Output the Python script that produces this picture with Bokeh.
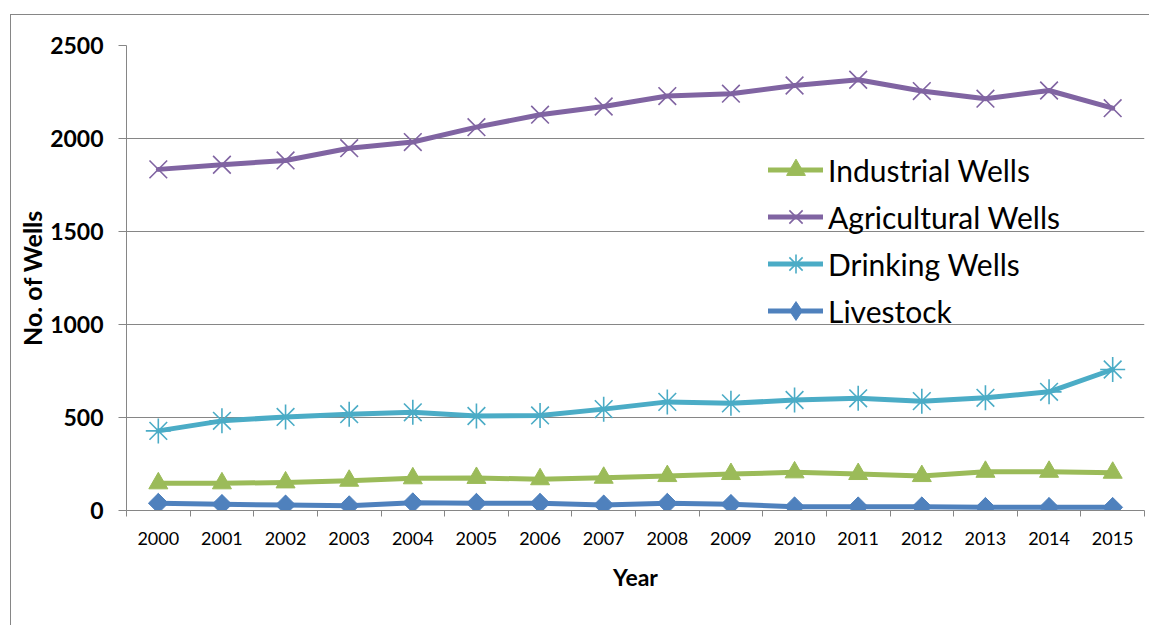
import math

from bokeh.embed import file_html
from bokeh.models import FixedTicker, Legend, LegendItem, Range1d
from bokeh.plotting import figure
from bokeh.resources import INLINE

# Number of wells per year, by use
years = ["2000", "2001", "2002", "2003", "2004", "2005", "2006", "2007",
         "2008", "2009", "2010", "2011", "2012", "2013", "2014", "2015"]
industrial = [146, 146, 151, 160, 173, 175, 168, 176, 185, 196, 205, 196, 185, 208, 208, 203]
agricultural = [1834, 1859, 1882, 1948, 1981, 2061, 2128, 2172, 2228, 2241, 2285, 2316,
                2255, 2214, 2258, 2163]
drinking = [428, 482, 503, 518, 528, 508, 511, 545, 584, 576, 594, 603, 588, 606, 638, 758]
livestock = [39, 33, 30, 26, 42, 39, 39, 30, 39, 33, 20, 20, 20, 17, 17, 17]

y_ticks = [0, 500, 1000, 1500, 2000, 2500]

FONT = "Lato"
GRID = "#868686"

xs = list(range(len(years)))

p = figure(
    width=1139, height=611,
    x_range=Range1d(-0.5, len(years) - 0.5),
    y_range=Range1d(0, 2500),
    output_backend="svg", toolbar_location=None,
    min_border_left=115, min_border_right=6,
    min_border_top=30, min_border_bottom=116,
    margin=(14, 0, 0, 10),
)
p.styles = {"border-left": f"1px solid {GRID}", "border-top": f"1px solid {GRID}"}
p.outline_line_color = None
p.background_fill_color = "white"
p.border_fill_color = "white"

# x axis: year labels at category centres, tick marks at category boundaries
p.xaxis.ticker = FixedTicker(ticks=xs, minor_ticks=[i - 0.5 for i in range(len(years) + 1)])
p.xaxis.major_label_overrides = {i: y for i, y in enumerate(years)}
p.xaxis.major_tick_out = 0
p.xaxis.major_tick_in = 0
p.xaxis.minor_tick_out = 6
p.xaxis.minor_tick_in = 0
p.xaxis.minor_tick_line_color = GRID
p.xaxis.axis_line_color = GRID
p.xaxis.major_label_text_font = FONT
p.xaxis.major_label_text_font_size = "18px"
p.xaxis.major_label_text_color = "black"
p.xaxis.major_label_standoff = 15
p.xaxis.axis_label = "Year"
p.xaxis.axis_label_text_font = FONT
p.xaxis.axis_label_text_font_style = "bold"
p.xaxis.axis_label_text_font_size = "23px"
p.xaxis.axis_label_text_color = "black"
p.xaxis.axis_label_standoff = 15
p.xgrid.grid_line_color = None

# y axis
p.yaxis.ticker = FixedTicker(ticks=y_ticks)
p.yaxis.major_tick_out = 8
p.yaxis.major_tick_in = 0
p.yaxis.minor_tick_line_color = None
p.yaxis.major_tick_line_color = GRID
p.yaxis.axis_line_color = GRID
p.yaxis.major_label_text_font = FONT
p.yaxis.major_label_text_font_style = "bold"
p.yaxis.major_label_text_font_size = "23px"
p.yaxis.major_label_text_color = "black"
p.yaxis.major_label_standoff = 15
p.yaxis.axis_label = "No. of Wells"
p.yaxis.axis_label_text_font = FONT
p.yaxis.axis_label_text_font_style = "bold"
p.yaxis.axis_label_text_font_size = "25px"
p.yaxis.axis_label_text_color = "black"
p.yaxis.axis_label_standoff = 0
p.ygrid.grid_line_color = GRID
p.ygrid.grid_line_width = 1

series = [
    ("Industrial Wells", industrial, "#9BBB59", dict(marker="triangle", size=19)),
    ("Agricultural Wells", agricultural, "#8064A2", dict(marker="x", size=25, line_width=1.6)),
    ("Drinking Wells", drinking, "#4BACC6", dict(marker="asterisk", size=25, line_width=1.6)),
    ("Livestock", livestock, "#4F81BD", dict(marker="square", size=14, angle=math.pi / 4)),
]

items = []
for label, vals, color, mk in series:
    ln = p.line(xs, vals, line_color=color, line_width=5, line_join="round", line_cap="round")
    renderers = [ln]
    if mk.get("angle"):
        # legend swatches ignore marker rotation, so an upright diamond sits
        # underneath the rotated squares and stands in for them in the legend
        renderers.append(p.scatter(xs, vals, marker="diamond", size=19,
                                   fill_color=color, line_color=color))
    sc = p.scatter(xs, vals, fill_color=color, line_color=color, **mk)
    if not mk.get("angle"):
        renderers.append(sc)
    items.append(LegendItem(label=label, renderers=renderers))

legend = Legend(
    items=items,
    location=(642, 176),
    glyph_width=55, glyph_height=47, label_height=47, spacing=0,
    padding=0, margin=0, label_standoff=5,
    label_text_font=FONT, label_text_font_size="30px", label_text_color="black",
    border_line_color=None, background_fill_alpha=0,
)
p.add_layout(legend)

open("out.html", "w").write(file_html(p, INLINE))
